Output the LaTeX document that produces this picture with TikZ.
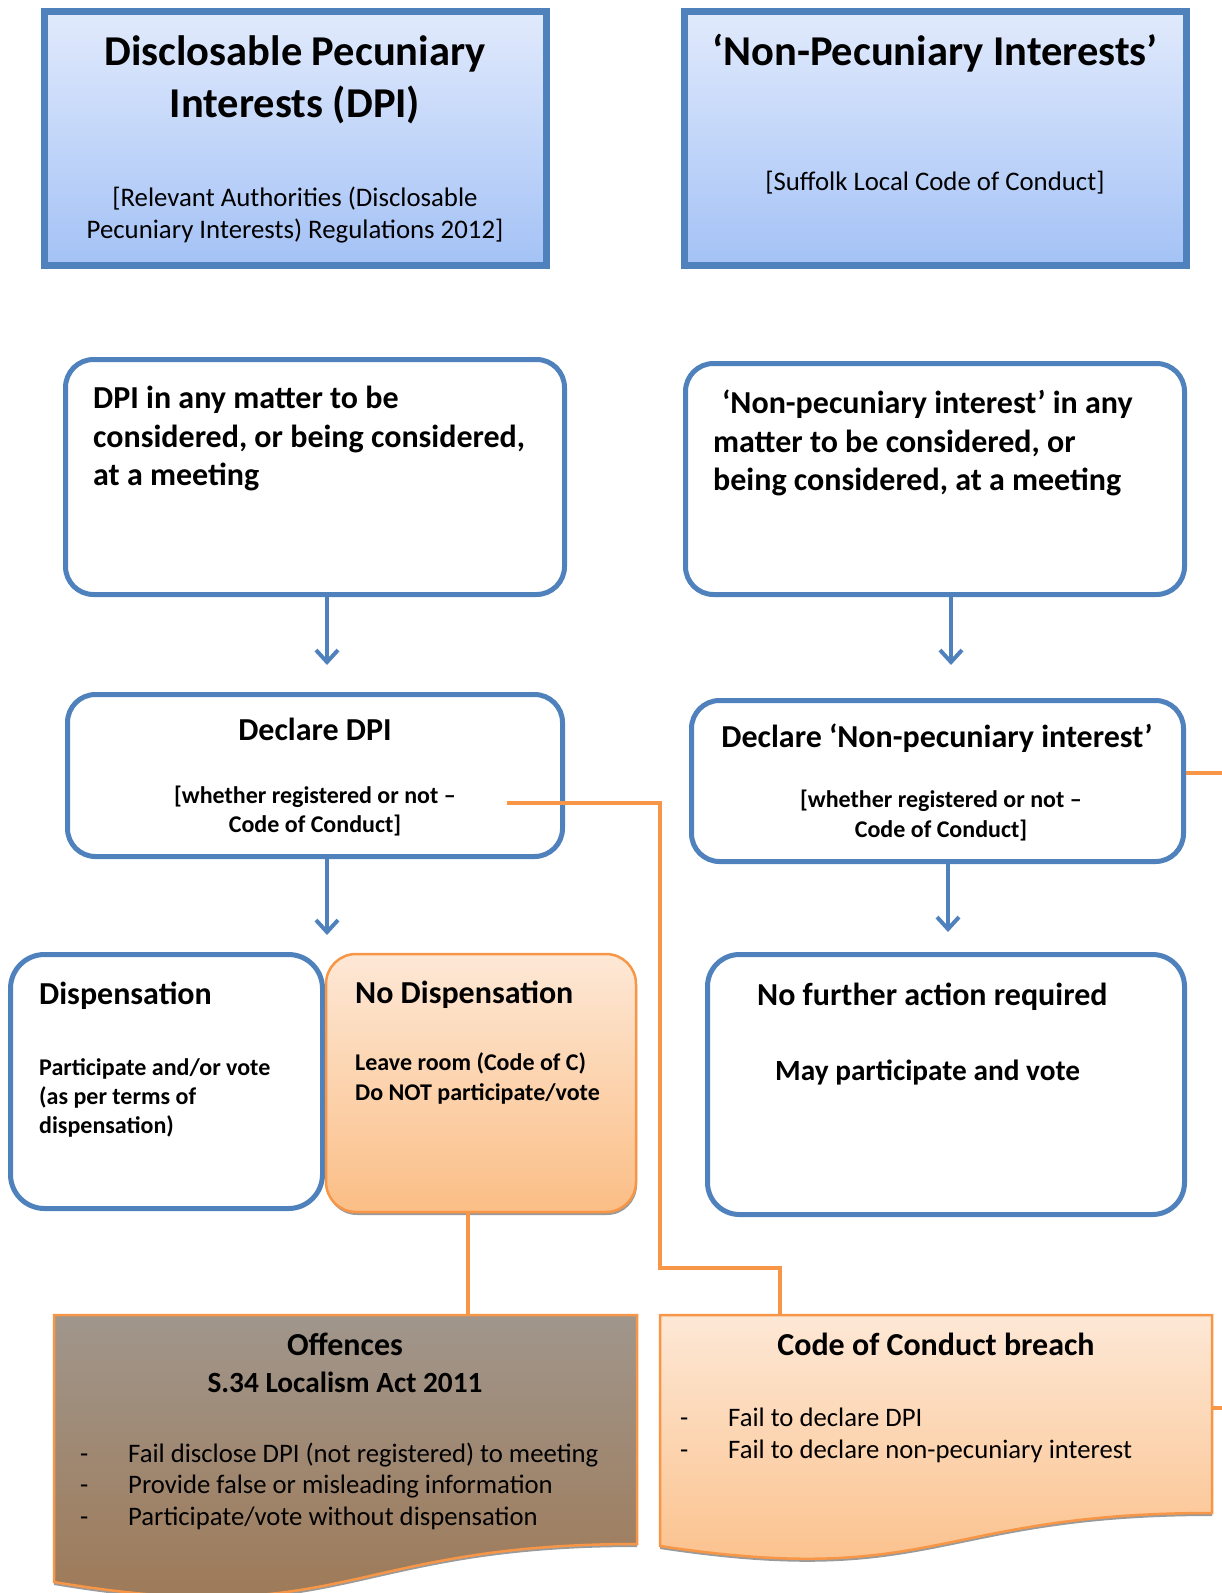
\documentclass[tikz,border=0pt]{standalone}
\usepackage{fontspec}
\setmainfont{Carlito}
\usetikzlibrary{arrows.meta,calc,shadows}
\definecolor{bl}{HTML}{4F81BD}
\definecolor{org}{HTML}{F79646}
\definecolor{bltop}{HTML}{E1EAFC}
\definecolor{blbot}{HTML}{A4C2F6}
\definecolor{ortop}{HTML}{FDE8D6}
\definecolor{orbot}{HTML}{FBBE86}
\definecolor{brtop}{HTML}{A0968C}
\definecolor{brbot}{HTML}{9E7752}
\definecolor{shd}{HTML}{9A9A9A}
\begin{document}
\begin{tikzpicture}[x=1pt,y=-1pt,
  headbox/.style={draw=bl,line width=7pt,top color=bltop,bottom color=blbot,
    minimum width=502pt,minimum height=254pt,inner sep=0pt,
    drop shadow={shadow xshift=1pt,shadow yshift=-3pt,fill=shd,opacity=1}},
  rbox/.style={draw=bl,line width=5pt,fill=white,rounded corners=28pt,inner sep=0pt},
  obox/.style={draw=org,line width=2.5pt,top color=ortop,bottom color=orbot,rounded corners=30pt,inner sep=0pt,
    drop shadow={shadow xshift=1pt,shadow yshift=-3pt,fill=shd,opacity=1}},
  arr/.style={draw=bl,line width=4pt,-{Straight Barb[length=12pt,width=22pt,line width=4pt]}},
  oline/.style={draw=org,line width=3.5pt},
  txt/.style={inner sep=0pt,anchor=base},
  txtl/.style={inner sep=0pt,anchor=base west},
  hA/.style={font=\fontsize{42.5}{50}\selectfont\bfseries},
  hS/.style={font=\fontsize{26.8}{32}\selectfont},
  bB/.style={font=\fontsize{32}{38}\selectfont\bfseries},
  bM/.style={font=\fontsize{29.3}{35}\selectfont\bfseries},
  bS/.style={font=\fontsize{24}{29}\selectfont\bfseries},
  rL/.style={font=\fontsize{26.7}{32}\selectfont}
]
\useasboundingbox (0,0) rectangle (1222,1593);

% top header boxes
\node[headbox] (topL) at (295.5,138.5) {};
\node[headbox] (topR) at (935.5,138.5) {};
\node[txt,hA] (tl1) at (295,65) {Disclosable Pecuniary};
\node[txt,hA] (tl2) at (295,117) {Interests (DPI)};
\node[txt,hS] (tl3) at (295,206) {[Relevant Authorities (Disclosable};
\node[txt,hS] (tl4) at (295,238) {Pecuniary Interests) Regulations 2012]};
\node[txt,hA] (tr1) at (935,65) {‘Non-Pecuniary Interests’};
\node[txt,hS] (tr2) at (935,190) {[Suffolk Local Code of Conduct]};

% meeting boxes
\node[rbox,minimum width=499pt,minimum height=235pt] (dpi) at (315,477) {};
\node[rbox,minimum width=499pt,minimum height=231pt] (np) at (935,479) {};
\node[txtl,bB] (d1) at (93,408) {DPI in any matter to be};
\node[txtl,bB] (d2) at (93,447) {considered, or being considered,};
\node[txtl,bB] (d3) at (93,485) {at a meeting};
\node[txtl,bB] (n1) at (722,413) {‘Non-pecuniary interest’ in any};
\node[txtl,bB] (n2) at (713,452) {matter to be considered, or};
\node[txtl,bB] (n3) at (713,490) {being considered, at a meeting};

% declare boxes
\node[rbox,minimum width=495pt,minimum height=162pt] (decl) at (315,775.5) {};
\node[rbox,minimum width=492pt,minimum height=161pt] (declnp) at (937.5,781) {};
\node[txt,bB] (e1) at (315,740) {Declare DPI};
\node[txt,bS] (e2) at (315,803) {[whether registered or not –};
\node[txt,bS] (e3) at (315,832) {Code of Conduct]};
\node[txt,bB] (f1) at (937,747) {Declare ‘Non-pecuniary interest\char"27};
\node[txt,bS] (f2) at (941,807) {[whether registered or not –};
\node[txt,bS] (f3) at (941,837) {Code of Conduct]};

% outcome boxes
\node[rbox,rounded corners=34pt,minimum width=312pt,minimum height=254pt] (disp) at (166.5,1081.5) {};
\node[obox,minimum width=310pt,minimum height=258pt] (nodisp) at (481,1083) {};
\node[rbox,rounded corners=32pt,minimum width=477pt,minimum height=260pt] (nfa) at (946,1084.5) {};
\node[txtl,bB] (g1) at (39,1004) {Dispensation};
\node[txtl,bS] (g2) at (39,1075) {Participate and/or vote};
\node[txtl,bS] (g3) at (39,1104) {(as per terms of};
\node[txtl,bS] (g4) at (39,1133) {dispensation)};
\node[txtl,bB] (h1) at (355,1003) {No Dispensation};
\node[txtl,bS] (h2) at (355,1070) {Leave room (Code of C)};
\node[txtl,bS] (h3) at (355,1100) {Do NOT participate/vote};
\node[txtl,bB] (k1) at (757,1005) {No further action required};
\node[txtl,bM] (k2) at (775,1080) {May participate and vote};

% document shapes
\fill[shd] (54,1318) -- (637,1318) -- (637,1547) .. controls (345.5,1547) and (345.5,1634) .. (54,1585) -- cycle;
\path[draw=org,line width=2.5pt,top color=brtop,bottom color=brbot] (54,1315) -- (637,1315) -- (637,1544) .. controls (345.5,1544) and (345.5,1631) .. (54,1582) -- cycle;
\fill[shd] (660,1318) -- (1212,1318) -- (1212,1516) .. controls (936,1516) and (936,1591) .. (660,1549) -- cycle;
\path[draw=org,line width=2.5pt,top color=ortop,bottom color=orbot] (660,1315) -- (1212,1315) -- (1212,1513) .. controls (936,1513) and (936,1588) .. (660,1546) -- cycle;
\coordinate (offN) at (468,1315);
\coordinate (cocN) at (780,1315);
\coordinate (cocE) at (1212,1408);
\node[txt,bB] (o1) at (345,1355) {Offences};
\node[txt,bM] (o2) at (345,1392) {S.34 Localism Act 2011};
\node[txtl,rL] (o3) at (80,1462) {-};
\node[txtl,rL] (o4) at (128,1462) {Fail disclose DPI (not registered) to meeting};
\node[txtl,rL] (o5) at (80,1493) {-};
\node[txtl,rL] (o6) at (128,1493) {Provide false or misleading information};
\node[txtl,rL] (o7) at (80,1525) {-};
\node[txtl,rL] (o8) at (128,1525) {Participate/vote without dispensation};
\node[txt,bB] (c1) at (936,1355) {Code of Conduct breach};
\node[txtl,rL] (c2) at (680,1426) {-};
\node[txtl,rL] (c3) at (728,1426) {Fail to declare DPI};
\node[txtl,rL] (c4) at (680,1458) {-};
\node[txtl,rL] (c5) at (728,1458) {Fail to declare non-pecuniary interest};

% blue arrows
\coordinate (a1) at (327,665);
\coordinate (a2) at (327,935);
\coordinate (a3) at (951,665);
\coordinate (a4) at (948,932);
\draw[arr] (dpi.south -| a1) -- (a1);
\draw[arr] (decl.south -| a2) -- (a2);
\draw[arr] (np.south -| a3) -- (a3);
\draw[arr] (declnp.south -| a4) -- (a4);

% orange connectors
\coordinate (declcc) at (507,803);
\coordinate (npo) at (1250,773);
\draw[oline] (declcc) -- (660,803) -- (660,1268) -- (780,1268) -- (cocN);
\draw[oline] (nodisp.south -| offN) -- (offN);
\draw[oline] (declnp.east |- npo) -- (npo) -- (1250,1408) -- (cocE);
\end{tikzpicture}
\end{document}
